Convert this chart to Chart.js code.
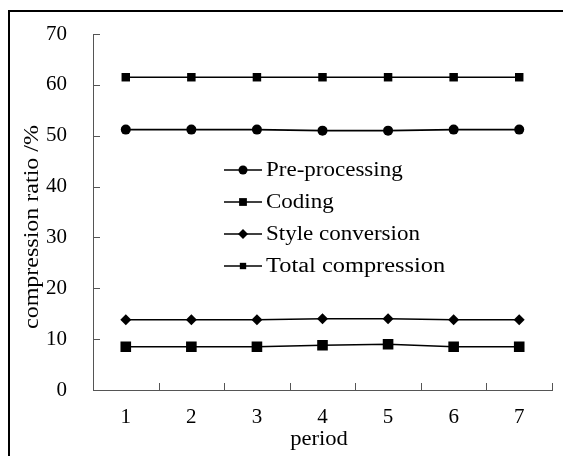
<!DOCTYPE html>
<html lang="en">
<head>
    <meta charset="UTF-8">
    <title>Compression ratio by period</title>
    <script src="https://cdn.jsdelivr.net/npm/chart.js"></script>
    <style>
        html, body { margin: 0; padding: 0; background: #fff; }
        #wrap { width: 563px; height: 456px; position: relative; }
    </style>
</head>
<body>
    <div id="wrap"><canvas id="chart"></canvas></div>
    <script>
        // data
        const periods = ['1', '2', '3', '4', '5', '6', '7'];
        const preProcessing = [51.2, 51.2, 51.2, 51.0, 51.0, 51.2, 51.2];
        const coding = [8.5, 8.5, 8.5, 8.8, 9.0, 8.5, 8.5];
        const styleConversion = [13.8, 13.8, 13.8, 14.0, 14.0, 13.8, 13.8];
        const totalCompression = [61.5, 61.5, 61.5, 61.5, 61.5, 61.5, 61.5];
        const yTicks = [0, 10, 20, 30, 40, 50, 60, 70];

        const serif = '"Liberation Serif", "Times New Roman", serif';

        function series(label, data, style, r, legendR) {
            return {
                label: label,
                data: data,
                borderColor: '#000',
                backgroundColor: '#000',
                borderWidth: 1.6,
                pointStyle: style,
                pointRadius: r,
                pointHoverRadius: r,
                pointBackgroundColor: '#000',
                pointBorderColor: '#000',
                pointBorderWidth: 0,
                legendRadius: legendR,
                tension: 0
            };
        }

        // text a bit wider than the installed serif, like the original
        function wideText(ctx, text, x, y, sx) {
            ctx.save();
            ctx.translate(x, y);
            ctx.scale(sx, 1);
            ctx.fillText(text, 0, 0);
            ctx.restore();
        }

        // inward ticks, frame, titles and the legend inside the plot
        const extras = {
            id: 'extras',
            afterDraw(chart) {
                const ctx = chart.ctx;
                const area = chart.chartArea;
                const x = chart.scales.x;
                const y = chart.scales.y;
                ctx.save();

                // outer frame (only top and left are in view)
                ctx.strokeStyle = '#000';
                ctx.lineWidth = 2;
                ctx.beginPath();
                ctx.moveTo(9, 460);
                ctx.lineTo(9, 11);
                ctx.lineTo(570, 11);
                ctx.stroke();

                // tick marks pointing into the plot
                ctx.strokeStyle = '#555';
                ctx.lineWidth = 1;
                ctx.beginPath();
                yTicks.forEach(v => {
                    const py = Math.round(y.getPixelForValue(v)) + 0.5;
                    ctx.moveTo(area.left, py);
                    ctx.lineTo(area.left + 7, py);
                });
                const step = x.getPixelForValue(1) - x.getPixelForValue(0);
                periods.forEach((p, i) => {
                    const px = Math.round(x.getPixelForValue(i) + step / 2) + 0.5;
                    ctx.moveTo(px, area.bottom);
                    ctx.lineTo(px, area.bottom - 7);
                });
                ctx.stroke();

                // axis titles
                ctx.fillStyle = '#000';
                ctx.font = '20px ' + serif;
                ctx.textAlign = 'center';
                ctx.textBaseline = 'middle';
                wideText(ctx, 'period', 319, 440, 1.13);
                ctx.save();
                ctx.translate(33, 227);
                ctx.rotate(-Math.PI / 2);
                wideText(ctx, 'compression ratio /%', 0, 0, 1.2);
                ctx.restore();

                // legend
                ctx.textAlign = 'left';
                ctx.strokeStyle = '#000';
                ctx.lineWidth = 1.6;
                chart.data.datasets.forEach((ds, i) => {
                    const ly = 170 + i * 32;
                    ctx.beginPath();
                    ctx.moveTo(224, ly);
                    ctx.lineTo(262, ly);
                    ctx.stroke();
                    Chart.helpers.drawPoint(ctx, {
                        pointStyle: ds.pointStyle,
                        radius: ds.legendRadius,
                        rotation: 0,
                        borderWidth: 0
                    }, 243, ly);
                    const sx = ds.label === 'Total compression' ? 1.22 : 1.15;
                    wideText(ctx, ds.label, 266, ly + 1, sx);
                });
                ctx.restore();
            }
        };

        new Chart(document.getElementById('chart'), {
            type: 'line',
            data: {
                labels: periods,
                datasets: [
                    series('Pre-processing', preProcessing, 'circle', 5, 4.5),
                    series('Coding', coding, 'rect', 7.5, 5.5),
                    series('Style conversion', styleConversion, 'rectRot', 5.5, 5),
                    series('Total compression', totalCompression, 'rect', 6, 4.5)
                ]
            },
            options: {
                responsive: true,
                maintainAspectRatio: false,
                animation: false,
                events: [],
                layout: { padding: { top: 34, right: 11, bottom: 0, left: 0 } },
                plugins: {
                    legend: { display: false },
                    tooltip: { enabled: false }
                },
                scales: {
                    x: {
                        offset: true,
                        grid: { display: false, drawTicks: false },
                        border: { display: true, color: '#555', width: 1 },
                        ticks: {
                            color: '#000',
                            padding: 15,
                            font: { family: serif, size: 21 }
                        },
                        afterFit(scale) { scale.height = 66; }
                    },
                    y: {
                        min: 0,
                        max: 70,
                        grid: { display: false, drawTicks: false },
                        border: { display: true, color: '#555', width: 1 },
                        afterBuildTicks(scale) {
                            scale.ticks = yTicks.map(v => ({ value: v }));
                        },
                        ticks: {
                            color: '#000',
                            padding: 26,
                            font: { family: serif, size: 21 }
                        },
                        afterFit(scale) {
                            scale.width = 93;
                            // label padding would otherwise push the plot top down
                            scale.paddingTop = 0;
                            scale.paddingBottom = 0;
                        }
                    }
                }
            },
            plugins: [extras]
        });
    </script>
</body>
</html>
